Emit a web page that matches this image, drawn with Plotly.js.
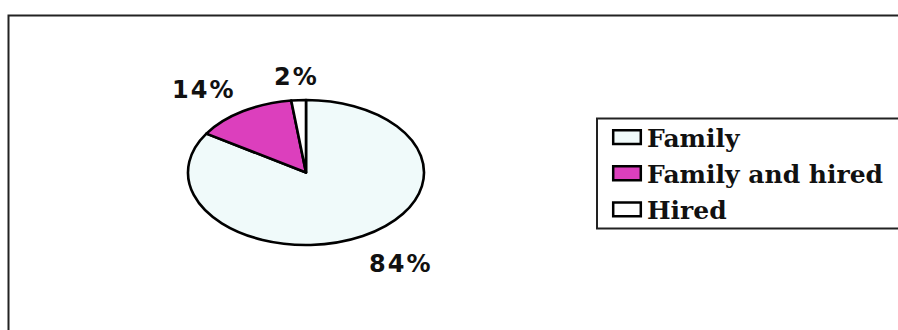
<!DOCTYPE html>
<html>
<head>
<meta charset="utf-8">
<script src="https://cdn.plot.ly/plotly-3.0.1.min.js"></script>
<style>
html,body{margin:0;padding:0;background:#ffffff;overflow:hidden;}
#chart{width:898px;height:330px;}
</style>
</head>
<body>
<div id="chart"></div>
<script>
// ---- data ----
const categories = ['Family', 'Family and hired', 'Hired'];
const shares = [84, 14, 2];
const sliceColors = ['#f0fafa', '#dc3fbd', '#ffffff'];

// ---- layout constants ----
const W = 898, H = 330;
const pieCx = 306, pieCy = 172.5, rx = 118, ry = 72.5;
const labelPos = [[400, 263.5], [203, 89.5], [296, 76.5]];

const total = shares.reduce((a, b) => a + b, 0);
const pctLabels = shares.map(v => Math.round(v / total * 100) + '%');
const legendLabels = categories.map(c => '<span style="font-size:25px">' + c + '</span>');

const px = x => x / W;
const py = y => 1 - y / H;

const data = [{
  type: 'pie',
  labels: legendLabels,
  values: shares,
  sort: false,
  direction: 'clockwise',
  rotation: 0,
  textinfo: 'none',
  hoverinfo: 'none',
  marker: {colors: sliceColors, line: {color: '#000000', width: 2.6}},
  domain: {x: [px(pieCx - rx), px(pieCx + rx)], y: [py(pieCy + rx), py(pieCy - rx)]},
  showlegend: true
}];

const layout = {
  width: W, height: H,
  margin: {l: 0, r: 0, t: 0, b: 0},
  paper_bgcolor: '#ffffff',
  showlegend: true,
  legend: {
    x: px(607), y: py(114), xanchor: 'left', yanchor: 'top',
    bgcolor: 'rgba(0,0,0,0)', borderwidth: 0,
    font: {family: '"DejaVu Serif", serif', size: 25.5, color: '#111111', weight: 'bold'},
    traceorder: 'normal'
  },
  shapes: [
    {type: 'rect', xref: 'paper', yref: 'paper', x0: px(8.5), x1: px(1100), y0: py(15.5), y1: py(400),
     line: {color: '#222222', width: 2}, fillcolor: 'rgba(0,0,0,0)'},
    {type: 'rect', xref: 'paper', yref: 'paper', x0: px(597), x1: px(1100), y0: py(118.5), y1: py(228.5),
     line: {color: '#222222', width: 2}, fillcolor: 'rgba(0,0,0,0)'}
  ],
  annotations: pctLabels.map((t, i) => ({
    text: t, xref: 'paper', yref: 'paper', x: px(labelPos[i][0]), y: py(labelPos[i][1]),
    xanchor: 'center', yanchor: 'middle', showarrow: false,
    font: {family: '"DejaVu Sans", sans-serif', size: 24, color: '#111111', weight: 'bold'}
  }))
};

Plotly.newPlot('chart', data, layout, {staticPlot: true, displayModeBar: false}).then(gd => {
  const tr = gd.querySelector('.pielayer .trace');
  if (tr) {
    const bb = tr.getBBox();
    const cx = bb.x + bb.width / 2, cy = bb.y + bb.height / 2;
    tr.setAttribute('transform', 'translate(' + cx + ',' + cy + ') scale(1,' + (ry / rx) + ') translate(' + (-cx) + ',' + (-cy) + ')');
    tr.querySelectorAll('path').forEach(p => p.setAttribute('vector-effect', 'non-scaling-stroke'));
  }
  gd.querySelectorAll('.legendpoints path').forEach(p => {
    const t = p.getAttribute('transform') || '';
    p.setAttribute('transform', t + ' scale(2.3,1.15)');
    p.setAttribute('vector-effect', 'non-scaling-stroke');
    p.style.strokeWidth = '2.5px';
    p.style.stroke = '#000000';
  });
  gd.querySelectorAll('.annotation-text').forEach(t => {
    t.style.letterSpacing = '2px';
  });
});
</script>
</body>
</html>
